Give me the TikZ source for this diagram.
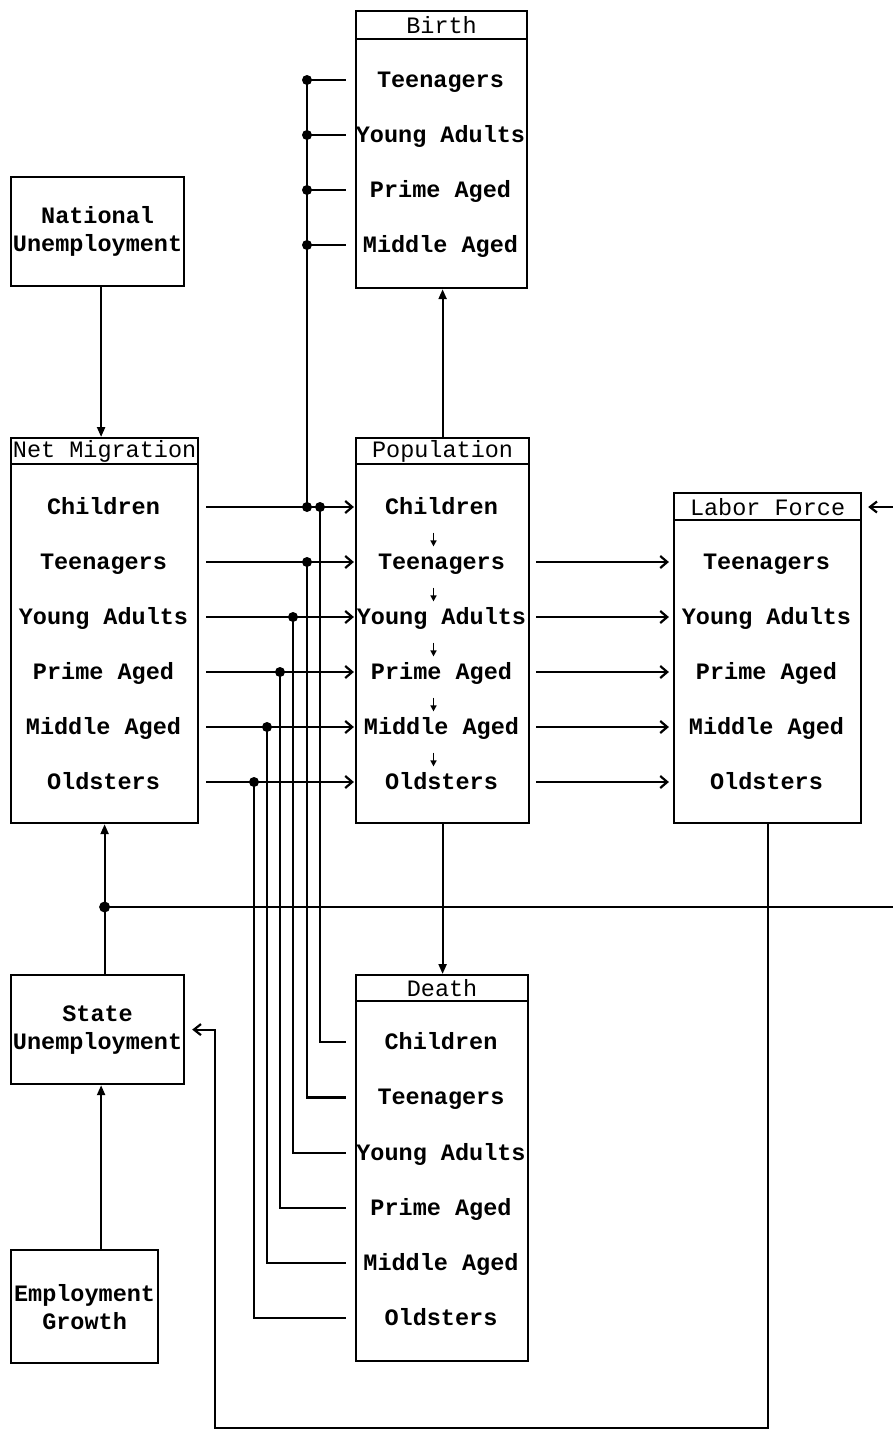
\documentclass[tikz,border=0pt]{standalone}
\usepackage{fontspec}
\setmonofont{Liberation Mono}
\usetikzlibrary{arrows.meta,calc}

\begin{document}
\begin{tikzpicture}[x=1pt,y=-1pt,line width=2.2pt,
    box/.style={draw,rectangle,anchor=north west,inner sep=0pt,align=center,
      font=\ttfamily\bfseries\fontsize{23.5}{28}\selectfont},
    head/.style={box,font=\ttfamily\fontsize{23.5}{26}\selectfont},
    row/.style={inner sep=0pt,text height=18pt,text depth=3pt,
      font=\ttfamily\bfseries\fontsize{23.5}{28}\selectfont},
    flow/.style={-{Straight Barb[length=7pt,width=12pt]},shorten <=8pt},
    barb/.style={-{Straight Barb[length=7pt,width=11pt]}},
    feed/.style={-{Triangle[length=10pt,width=8pt]}},
    tick/.style={-{Triangle[length=6pt,width=6pt]},line width=1.6pt,
      shorten <=14pt,shorten >=4pt}]

  \useasboundingbox (0,0) rectangle (893,1430);

  % boxes
  \node[box,minimum width=171pt,minimum height=277pt] (birth) at (355,10) {};
  \node[head,minimum width=171pt,minimum height=28pt] (birthh) at (355,10) {Birth};
  \node[box,minimum width=173pt,minimum height=109pt] (natun) at (10,176) {National\\Unemployment};
  \node[box,minimum width=187pt,minimum height=385pt] (mig) at (10,437) {};
  \node[head,minimum width=187pt,minimum height=26pt] (migh) at (10,437) {Net Migration};
  \node[box,minimum width=173pt,minimum height=385pt] (pop) at (355,437) {};
  \node[head,minimum width=173pt,minimum height=26pt] (poph) at (355,437) {Population};
  \node[box,minimum width=187pt,minimum height=330pt] (lab) at (673,492) {};
  \node[head,minimum width=187pt,minimum height=27pt] (labh) at (673,492) {Labor Force};
  \node[box,minimum width=172pt,minimum height=386pt] (death) at (355,974) {};
  \node[head,minimum width=172pt,minimum height=26pt] (deathh) at (355,974) {Death};
  \node[box,minimum width=173pt,minimum height=109pt] (stun) at (10,974) {State\\Unemployment};
  \node[box,minimum width=147pt,minimum height=113pt] (empg) at (10,1249) {Employment\\Growth};

  % age groups
  \foreach \t [count=\i] in {Children,Teenagers,Young Adults,Prime Aged,Middle Aged,Oldsters} {
    \pgfmathsetmacro\y{452+55*\i}
    \node[row,minimum width=187pt] (m\i) at (103.5,\y) {\t};
    \node[row,minimum width=173pt] (p\i) at (441.5,\y) {\t};
    \pgfmathsetmacro\y{987+55.2*\i}
    \node[row,minimum width=172pt] (d\i) at (441,\y) {\t};
  }
  \foreach \t [count=\i from 2] in {Teenagers,Young Adults,Prime Aged,Middle Aged,Oldsters} {
    \pgfmathsetmacro\y{452+55*\i}
    \node[row,minimum width=187pt] (l\i) at (766.5,\y) {\t};
  }
  \foreach \t [count=\i from 2] in {Teenagers,Young Adults,Prime Aged,Middle Aged} {
    \pgfmathsetmacro\y{-30+55*\i}
    \node[row,minimum width=171pt] (b\i) at (440.5,\y) {\t};
  }

  % flows between the age groups
  \foreach \i in {1,...,6}
    \draw[flow] (m\i.east) -- (p\i.west);
  \foreach \i in {2,...,6}
    \draw[flow,shorten <=7pt,shorten >=3pt] (p\i.east) -- (l\i.west);
  \foreach \i/\j in {1/2,2/3,3/4,4/5,5/6}
    \draw[tick] ([xshift=-8pt]p\i.south) -- ([xshift=-8pt]p\j.north);

  % births and deaths
  \coordinate (jb) at (307,80);
  \coordinate (j0) at (307,507);
  \coordinate (j1) at (320,507);
  \coordinate (j2) at (307,562);
  \coordinate (j3) at (293,617);
  \coordinate (j4) at (280,672);
  \coordinate (j5) at (267,727);
  \coordinate (j6) at (254,782);
  \draw (jb) -- (j0);
  \foreach \i in {2,...,5} {
    \draw ([xshift=-8pt]b\i.west) -- (jb |- b\i);
    \fill (jb |- b\i) circle (5pt);
  }
  \foreach \i in {1,...,6} {
    \draw (j\i) |- ([xshift=-8pt]d\i.west);
    \fill (j\i) circle (5pt);
  }
  \fill (j0) circle (5pt);

  % unemployment and labor force
  \coordinate (jm) at (mig.south |- 0,907);
  \coordinate (loop) at (215,1428);
  \draw[feed] ([xshift=3.5pt]natun.south) -- ([xshift=3.5pt]natun.south |- mig.north);
  \draw[feed] (pop.north) -- (pop.north |- birth.south);
  \draw[feed] (pop.south) -- (pop.south |- death.north);
  \draw[feed] (mig.south |- stun.north) -- (mig.south);
  \draw[feed] ([xshift=3.5pt]stun.south |- empg.north) -- ([xshift=3.5pt]stun.south);
  \draw[barb,shorten >=6pt] (jm) -- (898,907) -- (898,507) -- (labh.east |- 0,507);
  \fill (jm) circle (5.5pt);
  \draw[barb,shorten >=7pt] (lab.south) |- (loop) |- (stun.east);

\end{tikzpicture}
\end{document}
